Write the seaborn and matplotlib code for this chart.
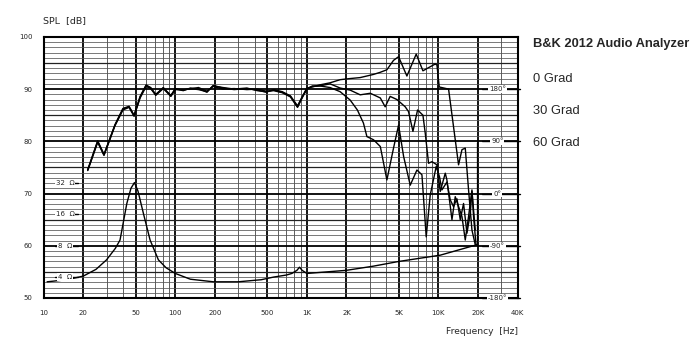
import numpy as np
import matplotlib
matplotlib.use("Agg")
import matplotlib.pyplot as plt
import pandas as pd
import seaborn as sns

# frequenzgang (SPL) - gemeinsame tiefen bis 1.25K
f_low = [21.6, 25.7, 28.7, 34.8, 40, 44.5, 48.6, 54, 60, 65, 71, 81, 92.5, 100, 115, 130,
         150, 174, 194, 230, 280, 350, 420, 490, 560, 650, 750, 849, 920, 1000, 1100, 1250]
db0_low = [74.5, 80, 77.4, 83.1, 86.2, 86.6, 84.9, 88.5, 90.7, 90.3, 88.9, 90.3, 88.7, 90, 89.7, 90.2,
           90.1, 89.4, 90.7, 90.2, 89.9, 90.1, 89.8, 89.4, 89.9, 89.5, 88.7, 86.8, 88.5, 90.2, 90.4, 90.8]
db30_low = [74.4, 79.8, 77.3, 83.0, 86.0, 86.5, 84.8, 88.3, 90.5, 90.1, 88.8, 90.1, 88.6, 89.9, 89.9, 90.0,
            90.3, 89.6, 90.5, 90.0, 90.1, 89.9, 90.0, 89.6, 89.7, 89.3, 88.5, 86.5, 88.3, 90.0, 90.6, 90.6]
db60_low = [74.6, 80.1, 77.5, 83.2, 86.3, 86.7, 85.0, 88.6, 90.8, 90.2, 89.0, 90.2, 88.8, 90.1, 89.8, 90.1,
            89.9, 89.5, 90.6, 90.3, 90.0, 90.2, 89.7, 89.5, 89.8, 89.4, 88.6, 86.6, 88.4, 90.1, 90.5, 90.6]

# hochton-teil je winkel
f0_high = [1500, 1790, 2100, 2540, 3200, 3600, 4057, 4556, 4977, 5757, 6777, 7622, 8409, 9456, 9746,
           10140, 11940, 13420, 14220, 15090, 15990, 16940, 17980, 19050, 19830, 19830]
db0_high = [91.2, 91.8, 92.0, 92.2, 92.8, 93.2, 93.7, 95.5, 96.2, 92.5, 96.7, 93.5, 94.1, 94.8, 94.6,
            90.4, 90.0, 80.3, 75.5, 78.4, 78.7, 70.7, 63.0, 60.2, 60.2, 79.7]
f30_high = [1500, 1790, 2133, 2543, 3033, 3616, 3938, 4295, 4834, 5593, 5920, 6400, 6940, 7622, 7943,
            8409, 8925, 9740, 10320, 11270, 11600, 12670, 13420, 14220, 15090, 15990, 16940, 17980, 18490, 19300]
db30_high = [91.0, 90.2, 89.8, 88.9, 89.2, 88.3, 86.6, 88.6, 88.0, 86.6, 85.7, 81.9, 86.0, 85.0, 81.5,
             75.8, 76.1, 75.5, 70.4, 73.9, 72.6, 65.0, 69.4, 67.5, 65.6, 61.1, 65.6, 70.7, 65.6, 60.2]
f60_high = [1500, 1790, 2133, 2420, 2690, 2860, 3209, 3616, 4057, 4556, 4977, 5437, 6103, 6863, 7490,
            8072, 8660, 9620, 10190, 10630, 11600, 12290, 13020, 13820, 14650, 15520, 16470, 17450, 17980, 19050]
db60_high = [90.3, 89.5, 87.9, 86.0, 83.5, 80.9, 80.3, 79.0, 72.6, 78.7, 83.1, 77.1, 71.6, 74.5, 73.6,
             61.7, 69.7, 75.2, 73.2, 70.7, 72.2, 68.8, 67.5, 69.0, 65.0, 68.1, 62.4, 66.2, 70.4, 63.0]

# impedanzkurve (auf dB-skala gezeichnet)
f_imp = [10.6, 15, 20, 25, 30, 35, 38, 42.8, 46, 48.9, 52, 57.2, 64.3, 74.4, 85, 100, 130, 195,
         300, 450, 557, 700, 769, 840, 879, 920, 1000, 2000, 3209, 5000, 10320, 19630]
db_imp = [53.1, 53.5, 54.2, 55.5, 57.3, 59.5, 61.1, 68.1, 71.0, 72.1, 70.5, 66.2, 61.1, 57.3, 55.8, 54.7,
          53.6, 53.1, 53.1, 53.5, 54.0, 54.4, 54.7, 55.3, 55.9, 55.3, 54.7, 55.3, 56.1, 57.0, 58.2, 60.2]

x_major = [10, 20, 50, 100, 200, 500, 1000, 2000, 5000, 10000, 20000, 40000]
x_labels = ["10", "20", "50", "100", "200", "500", "1K", "2K", "5K", "10K", "20K", "40K"]
ohm_levels = [72, 66, 60, 54]
ohm_labels = ["32  Ω", "16  Ω", "8  Ω", "4  Ω"]
deg_levels = [90, 80, 70, 60, 50]
deg_labels = ["180°", "90°", "0°", "-90°", "-180°"]
legend_lines = ["0 Grad", "30 Grad", "60 Grad"]

parts = []
for name, f, d in [("0", f_low + f0_high, db0_low + db0_high),
                   ("30", f_low + f30_high, db30_low + db30_high),
                   ("60", f_low + f60_high, db60_low + db60_high),
                   ("imp", f_imp, db_imp)]:
    parts.append(pd.DataFrame({"freq": f, "spl": d, "curve": name}))
df = pd.concat(parts, ignore_index=True)

sns.set_style("white")
plt.rcParams["font.family"] = ["DejaVu Sans"]

fig = plt.figure(figsize=(7.0, 3.51), dpi=100)
ax = fig.add_axes([0.0625, 0.151, 0.677, 0.744])

# raster
minor_f = [m * 10 ** e for e in range(1, 5) for m in range(1, 10) if m * 10 ** e <= 40000]
for f in minor_f:
    if f not in x_major:
        ax.axvline(f, color="#444444", lw=0.6, zorder=1)
for f in x_major:
    ax.axvline(f, color="black", lw=1.3, zorder=1)
for y in range(50, 101):
    if y % 10 == 0:
        ax.axhline(y, color="black", lw=1.3, zorder=1)
    elif y % 5 == 0:
        ax.axhline(y, color="#222222", lw=0.9, zorder=1)
    else:
        ax.axhline(y, color="#555555", lw=0.55, zorder=1)

sns.lineplot(data=df, x="freq", y="spl", units="curve", estimator=None, sort=False,
             color="black", lw=1.0, ax=ax, zorder=3)

ax.set_xscale("log")
ax.set_xlim(10, 40000)
ax.set_ylim(50, 100)
ax.set_xticks(x_major)
ax.set_xticklabels(x_labels)
ax.xaxis.set_minor_locator(matplotlib.ticker.NullLocator())
ax.set_yticks(range(50, 101, 10))
ax.tick_params(length=0, labelsize=5, pad=9)
ax.tick_params(axis="y", pad=8)
ax.set_xlabel("")
ax.set_ylabel("")
for s in ax.spines.values():
    s.set_color("black")
    s.set_linewidth(1.5)

# ohm-markierungen links
for lvl, lab in zip(ohm_levels, ohm_labels):
    ax.plot([12.2, 18.2], [lvl, lvl], color="black", lw=1.0, zorder=4)
    ax.text(14.5, lvl, lab, fontsize=5, ha="center", va="center", zorder=5,
            bbox=dict(facecolor="white", edgecolor="none", pad=0.6))

# phasen-markierungen rechts
for lvl, lab in zip(deg_levels, deg_labels):
    ax.plot([21500, 42000], [lvl, lvl], color="black", lw=1.0, zorder=4, clip_on=False)
    ax.text(28000, lvl, lab, fontsize=5, ha="center", va="center", zorder=5,
            bbox=dict(facecolor="white", edgecolor="none", pad=0.6))

fig.text(43 / 700, 1 - 21 / 351, "SPL  [dB]", fontsize=6.8, ha="left", va="center")
fig.text(518 / 700, 1 - 332 / 351, "Frequency  [Hz]", fontsize=6.6, ha="right", va="center")
fig.text(533 / 700, 1 - 44 / 351, "B&K 2012 Audio Analyzer", fontsize=9.3, fontweight="bold",
         family="Liberation Sans", ha="left", va="center")
for i, t in enumerate(legend_lines):
    fig.text(533 / 700, 1 - (79 + 32 * i) / 351, t, fontsize=9.3, family="Liberation Sans",
             ha="left", va="center")

fig.savefig("out.png", dpi=100, facecolor="white")
